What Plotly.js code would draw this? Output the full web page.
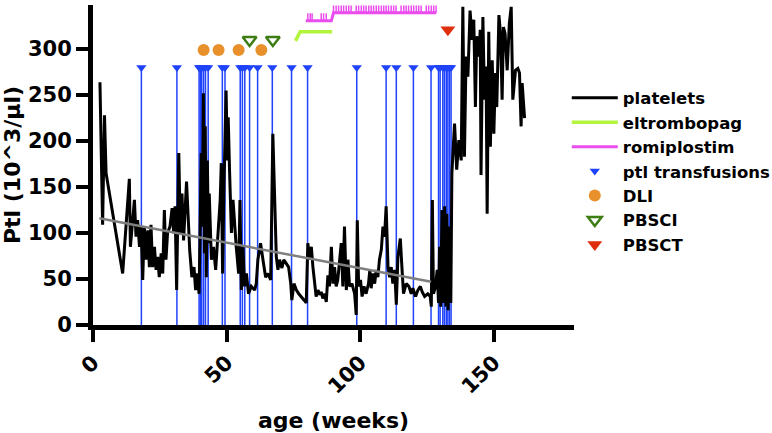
<!DOCTYPE html>
<html>
<head>
<meta charset="utf-8">
<script src="https://cdn.plot.ly/plotly-3.0.1.min.js"></script>
<style>html,body{margin:0;padding:0;background:#fff;}#chart{width:772px;height:433px;}</style>
</head>
<body>
<div id="chart"></div>
<script>
// ---- data ----
var ptlWeeks = [2.6,3.6,4.3,4.9,11.1,13.6,14.0,14.6,15.5,16.1,16.7,17.4,18.0,18.6,19.2,19.9,20.5,21.1,21.7,22.3,23.0,23.6,24.2,24.8,25.5,26.1,26.7,27.3,27.9,28.8,29.6,30.2,30.7,31.3,32.1,32.7,33.3,33.9,35.0,
36.2,37.0,37.8,38.4,39.0,39.7,40.2,40.5,40.9,41.3,41.7,42.0,42.4,42.8,43.2,43.5,44.3,45.1,45.9,46.8,47.6,48.0,48.5,49.0,49.4,49.8,50.3,50.6,51.1,51.8,52.4,53.0,53.6,54.5,55.0,55.5,56.1,56.7,57.4,58.2,59.2,60.5,61.1,61.7,62.7,63.6,64.6,65.5,66.5,67.3,
68.6,69.2,69.8,70.7,71.4,72.3,73.2,74.0,74.4,75.2,76.1,77.0,78.0,79.0,79.8,80.4,81.0,81.7,82.3,83.0,83.5,84.2,84.8,85.4,86.0,86.7,87.3,87.9,88.5,89.2,89.8,90.4,91.0,91.6,92.3,92.9,93.5,94.1,94.8,95.4,96.0,96.9,97.9,98.5,98.9,99.4,100.1,100.7,101.4,102.2,103.1,
103.6,104.1,104.7,105.4,106.0,106.6,107.2,107.9,108.5,109.1,109.7,110.4,111.0,111.6,112.2,112.9,113.5,114.1,115.0,115.6,116.2,117.2,118.2,119.1,119.7,120.7,121.6,122.5,123.2,124.1,125.3,126.2,126.6,127.0,127.4,128.2,128.8,129.3,129.7,130.1,130.6,131.1,131.6,132.1,132.4,132.9,133.4,133.9,134.3,
135.3,136.1,136.9,137.8,138.4,139.0,139.6,140.3,141.1,141.9,142.5,143.1,143.6,144.4,144.9,145.2,145.9,146.5,147.1,147.5,148.1,148.7,149.4,150.0,150.6,151.1,151.9,152.5,153.1,153.6,154.2,155.0,155.8,156.5,157.1,158.1,159.0,159.6,160.2,160.6,161.5];
var ptlValues = [264,109,228,165,56,159,85,110,136,96,114,85,107,49,107,71,103,63,109,63,85,60,74,52,78,56,125,71,100,107,127,100,129,38,187,100,143,92,156,
81,52,63,38,56,34,125,187,107,252,78,216,52,179,89,143,71,85,60,107,136,176,56,150,216,255,179,226,168,100,136,107,85,56,136,38,85,42,56,34,42,38,45,71,89,71,52,56,49,208,
74,60,71,62,71,67,63,45,27,45,38,34,31,27,24,89,71,85,63,42,31,38,33,36,29,34,25,54,42,85,45,63,42,49,71,89,42,107,38,71,42,45,34,11,114,42,49,31,42,34,45,
60,40,56,45,60,52,71,82,107,96,129,63,52,63,45,60,22,74,94,63,34,45,42,34,40,31,38,42,36,31,34,31,20,136,34,42,60,24,85,20,125,24,129,20,121,16,107,24,165,
219,169,201,179,346,183,292,270,342,310,332,237,314,292,321,163,335,245,281,121,319,194,288,208,274,237,337,317,245,324,317,277,328,346,245,277,279,274,216,263,225];

var trendWeeks = [2.4, 126.5];
var trendValues = [116, 47];

var transfusionWeeks = [18.1,31.4,39.7,40.2,40.7,41.4,42.1,43.1,48.4,49.4,55.1,55.9,56.8,58.6,61.6,67.1,74.3,80.3,98.7,109.7,113.5,119.9,126.5,129.3,129.9,130.9,131.5,132.2,132.8,133.4,134.0];
var transfusionLevel = 280;

var eltrombopagWeeks = [75.8, 77.5, 89.5];
var eltrombopagValues = [309, 319, 319];

var romiplostimWeeks = [79.6, 89.2, 90.0, 128.4];
var romiplostimValues = [331, 331, 339.5, 339.5];
var romiDoseWeeks = [80.4,81.3,82.0,85.4,86.3,87.3,
  90.0,91.0,91.9,92.9,93.8,94.8,95.7,96.6,98.5,99.4,100.4,101.3,102.2,103.2,104.1,105.0,106.0,106.9,107.9,108.8,109.7,110.6,111.6,112.5,113.4,115.3,116.3,117.2,118.1,119.1,120.0,121.0,121.9,122.8,124.7,125.6,126.6,127.5,128.4];
var romiDoseValues = [331,331,331,331,331,331,
  339.5,339.5,339.5,339.5,339.5,339.5,339.5,339.5,339.5,339.5,339.5,339.5,339.5,339.5,339.5,339.5,339.5,339.5,339.5,339.5,339.5,339.5,339.5,339.5,339.5,339.5,339.5,339.5,339.5,339.5,339.5,339.5,339.5,339.5,339.5,339.5,339.5,339.5,339.5];

var dliWeeks = [41.4, 47.0, 54.5, 63.0];
var dliLevel = 299;
var pbsciWeeks = [58.6, 67.3];
var pbsciLevel = 310;
var pbsctWeeks = [132.8];
var pbsctLevel = 321;

var xTicks = [0, 50, 100, 150];
var yTicks = [0, 50, 100, 150, 200, 250, 300];

// ---- traces ----
function level(arr, v){ return arr.map(function(){ return v; }); }

var BLUE = '#1f42fb', ORANGE = '#e8912c', GREEN = '#3d7d14', RED = '#df2e0d', LIME = '#b3f43c', MAGENTA = '#ea4ded';

var traces = [
  {name:'ptl transfusions', x: transfusionWeeks, y: level(transfusionWeeks, transfusionLevel), type:'scatter', mode:'markers',
   marker:{symbol:'triangle-down', size:9, color:BLUE},
   error_y:{type:'percent', symmetric:false, value:0, valueminus:100, width:0, thickness:1.5, color:BLUE},
   legendrank:4},
  {name:'platelets', x: ptlWeeks, y: ptlValues, type:'scatter', mode:'lines',
   line:{color:'#000000', width:3}, legendrank:1},
  {name:'trend', x: trendWeeks, y: trendValues, type:'scatter', mode:'lines',
   line:{color:'#7f7f7f', width:2.5}, showlegend:false},
  {name:'eltrombopag', x: eltrombopagWeeks, y: eltrombopagValues, type:'scatter', mode:'lines',
   line:{color:LIME, width:3.5}, legendrank:2},
  {name:'romiplostim', x: romiplostimWeeks, y: romiplostimValues, type:'scatter', mode:'lines',
   line:{color:MAGENTA, width:3}, legendrank:3},
  {name:'romiplostim doses', x: romiDoseWeeks, y: romiDoseValues, type:'scatter', mode:'markers',
   marker:{size:1, color:MAGENTA},
   error_y:{type:'constant', symmetric:false, value:8, valueminus:0, width:0, thickness:1.5, color:MAGENTA},
   showlegend:false},
  {name:'DLI', x: dliWeeks, y: level(dliWeeks, dliLevel), type:'scatter', mode:'markers',
   marker:{symbol:'circle', size:12, color:ORANGE}, legendrank:5},
  {name:'PBSCI', x: pbsciWeeks, y: level(pbsciWeeks, pbsciLevel), type:'scatter', mode:'markers',
   marker:{symbol:'triangle-down-open', size:12, color:GREEN, line:{width:2.5, color:GREEN}}, legendrank:6},
  {name:'PBSCT', x: pbsctWeeks, y: level(pbsctWeeks, pbsctLevel), type:'scatter', mode:'markers',
   marker:{symbol:'triangle-down', size:13, color:RED}, legendrank:7}
];

var tickFont = {family:'DejaVu Sans', size:21, weight:'bold', color:'#000'};
var titleFont = {family:'DejaVu Sans', size:22, weight:'bold', color:'#000'};

var layout = {
  width:772, height:433,
  margin:{l:93, r:198, t:5, b:108, pad:0, autoexpand:false},
  paper_bgcolor:'#fff', plot_bgcolor:'#fff',
  showlegend:true,
  legend:{x:0.985, y:0.764, xanchor:'left', yanchor:'top', bgcolor:'rgba(0,0,0,0)',
          font:{family:'DejaVu Sans', size:16.5, weight:'bold', color:'#000'},
          traceorder:'normal', itemwidth:46},
  xaxis:{range:[0,180], tickvals:xTicks, ticktext:xTicks.map(String), tickangle:-45,
         showline:true, linewidth:5, linecolor:'#000', ticks:'outside', ticklen:12, tickwidth:4, tickcolor:'#000',
         showgrid:false, zeroline:false, tickfont:tickFont,
         title:{text:'age (weeks)', font:titleFont, standoff:18}},
  yaxis:{range:[0,348], tickvals:yTicks, ticktext:yTicks.map(String),
         showline:true, linewidth:5, linecolor:'#000', ticks:'outside', ticklen:12, tickwidth:4, tickcolor:'#000',
         showgrid:false, zeroline:false, tickfont:tickFont,
         title:{text:'Ptl (10^3/µl)', font:titleFont, standoff:6}}
};

Plotly.newPlot('chart', traces, layout, {displayModeBar:false, staticPlot:true});
</script>
</body>
</html>
